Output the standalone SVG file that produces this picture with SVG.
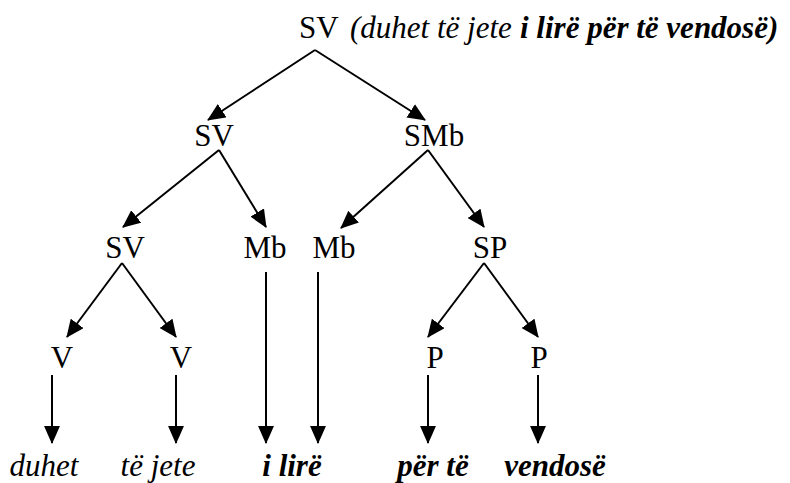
<svg xmlns="http://www.w3.org/2000/svg" width="790" height="483" viewBox="0 0 790 483" font-family="'Liberation Serif', 'Times New Roman', serif">
<defs>
<style>
text{font-family:"Liberation Serif","Times New Roman",serif;font-size:31px;fill:#000}
.n{text-anchor:middle}
.it{font-style:italic}
.bi{font-style:italic;font-weight:bold}
.c line{stroke:#000;stroke-width:2;marker-end:url(#ah)}
</style>
<marker id="ah" markerUnits="userSpaceOnUse" markerWidth="18" markerHeight="16" viewBox="0 0 17 15" refX="16" refY="7.5" orient="auto">
<path d="M0,0 L17,7.5 L0,15 Z" fill="#000"/>
</marker>
</defs>
<rect width="790" height="483" fill="#fff"/>
<g id="connectors" class="c">
<line x1="315" y1="50" x2="208" y2="120"/>
<line x1="315" y1="50" x2="425" y2="120"/>
<line x1="219" y1="150" x2="123" y2="227"/>
<line x1="219" y1="150" x2="266" y2="227"/>
<line x1="428" y1="150" x2="341" y2="228"/>
<line x1="428" y1="150" x2="484" y2="227"/>
<line x1="122" y1="263" x2="67" y2="337"/>
<line x1="122" y1="263" x2="176" y2="337"/>
<line x1="484" y1="263" x2="428" y2="337"/>
<line x1="484" y1="263" x2="538" y2="337"/>
<line x1="266" y1="272" x2="266" y2="443"/>
<line x1="318" y1="272" x2="318" y2="443"/>
<line x1="52" y1="375" x2="52" y2="443"/>
<line x1="176" y1="375" x2="176" y2="443"/>
<line x1="428" y1="375" x2="428" y2="443"/>
<line x1="538" y1="375" x2="538" y2="443"/>
</g>
<g id="root"><text x="299" y="38">SV <tspan class="it" x="350">(duhet të jete</tspan><tspan class="bi" x="520">i lirë për të vendosë)</tspan></text></g>
<g id="sv1"><text class="n" x="214" y="146">SV</text></g>
<g id="smb"><text class="n" x="434" y="146">SMb</text></g>
<g id="sv2"><text class="n" x="125" y="258">SV</text></g>
<g id="mb1"><text class="n" x="265" y="258">Mb</text></g>
<g id="mb2"><text class="n" x="334" y="258">Mb</text></g>
<g id="sp"><text class="n" x="490" y="258">SP</text></g>
<g id="v1"><text class="n" x="62" y="368">V</text></g>
<g id="v2"><text class="n" x="181" y="368">V</text></g>
<g id="p1"><text class="n" x="435" y="368">P</text></g>
<g id="p2"><text class="n" x="539" y="368">P</text></g>
<g id="w1"><text class="it n" x="44" y="476">duhet</text></g>
<g id="w2"><text class="it n" x="158" y="476">të jete</text></g>
<g id="w3"><text class="bi n" x="292" y="476">i lirë</text></g>
<g id="w4"><text class="bi n" x="433" y="476">për të</text></g>
<g id="w5"><text class="bi n" x="555" y="476">vendosë</text></g>
</svg>
